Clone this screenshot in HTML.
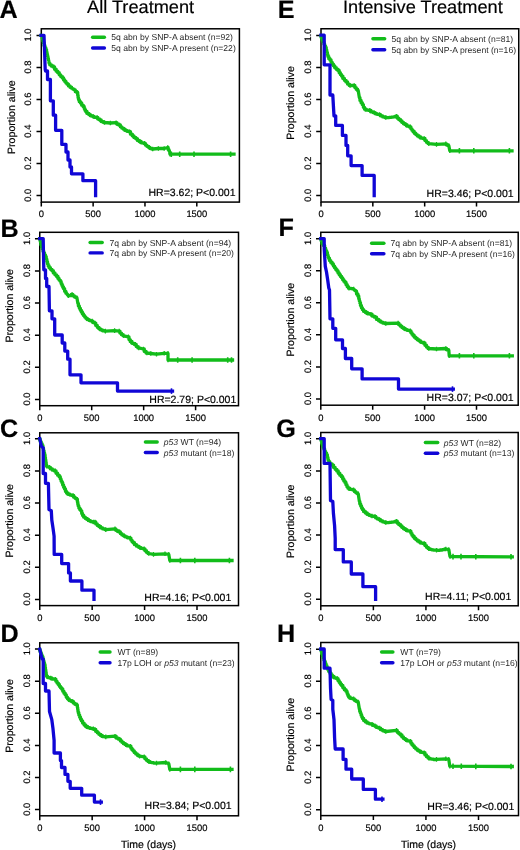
<!DOCTYPE html>
<html><head><meta charset="utf-8"><style>
html,body{margin:0;padding:0;background:#fff;width:520px;height:850px;overflow:hidden}
svg{display:block;text-rendering:geometricPrecision;will-change:transform}
text{font-family:"Liberation Sans",sans-serif;fill:#000;stroke:#000;stroke-width:0.18px}
.let{font-size:25.2px;font-weight:bold}
.ti{font-size:18.2px}
.tl{font-size:9.4px}
.yl{font-size:10.6px}
.lg{font-size:8.6px;fill:#2a2a2a;stroke:none}
.hr{font-size:10.5px}
.xl{font-size:10.5px}
.fr{fill:none;stroke:#000;stroke-width:1.5}
.tk{fill:none;stroke:#000;stroke-width:1.5}
.lgl{stroke-width:3.4;fill:none;stroke-linecap:round}
.vt{fill:none;stroke-width:1.3}
.cs{fill:none;stroke-width:1.6}
.cv{fill:none;stroke-width:3.3;stroke-linejoin:round;stroke-linecap:square}
</style></head><body>
<svg width="520" height="850" viewBox="0 0 520 850">
<text x='-0.5' y='18.2' class='let'>A</text>
<rect x='41.3' y='28.8' width='198.1' height='173.3' class='fr'/>
<path d='M36.5 35.4H41.3 M36.5 67.44H41.3 M36.5 99.48H41.3 M36.5 131.52H41.3 M36.5 163.56H41.3 M36.5 195.6H41.3 M41.3 202.1V206.6 M93.13 202.1V206.6 M144.97 202.1V206.6 M196.8 202.1V206.6' class='tk'/>
<text transform='translate(31.4,35) rotate(-90)' class='tl' text-anchor='middle'>1.0</text>
<text transform='translate(31.4,67.04) rotate(-90)' class='tl' text-anchor='middle'>0.8</text>
<text transform='translate(31.4,99.08) rotate(-90)' class='tl' text-anchor='middle'>0.6</text>
<text transform='translate(31.4,131.12) rotate(-90)' class='tl' text-anchor='middle'>0.4</text>
<text transform='translate(31.4,163.16) rotate(-90)' class='tl' text-anchor='middle'>0.2</text>
<text transform='translate(31.4,195.2) rotate(-90)' class='tl' text-anchor='middle'>0.0</text>
<text transform='translate(41.3,217.4)' class='tl' text-anchor='middle'>0</text>
<text transform='translate(93.13,217.4)' class='tl' text-anchor='middle'>500</text>
<text transform='translate(144.97,217.4)' class='tl' text-anchor='middle'>1000</text>
<text transform='translate(196.8,217.4)' class='tl' text-anchor='middle'>1500</text>
<text transform='translate(15.2,117.2) rotate(-90)' class='yl' text-anchor='middle'>Proportion alive</text>
<path d='M92.6 37.3H104.4' stroke='#12bc1a' class='lgl'/>
<path d='M92.6 48H104.4' stroke='#1006d6' class='lgl'/>
<text x='111.3' y='40.3' class='lg'>5q abn by SNP-A absent (n=92)</text>
<text x='111.3' y='51' class='lg'>5q abn by SNP-A present (n=22)</text>
<text x='235.5' y='196.4' class='hr' text-anchor='end'>HR=3.62; P&lt;0.001</text>
<path d='M41 35.4 L42 36 L42.25 36 L42.25 38.63 L42.75 38.63 L42.75 40.87 L43.25 40.87 L43.25 42.7 L43.5 42.7 L43.97 42.7 L43.97 45.4 L44.9 45.4 L44.9 47.7 L45.83 47.7 L45.83 49.6 L46.3 49.6 L46.53 49.6 L46.53 52.08 L46.99 52.08 L46.99 54.16 L47.45 54.16 L47.45 56.24 L47.91 56.24 L47.91 58.32 L48.37 58.32 L48.37 60 L48.6 60 L49.2 63.4 L49.97 63.4 L49.97 64.97 L51.5 64.97 L51.5 66.13 L53.03 66.13 L53.03 66.9 L53.8 66.9 L54.58 66.9 L54.58 69.23 L56.15 69.23 L56.15 71.17 L57.72 71.17 L57.72 72.7 L58.5 72.7 L59.25 72.7 L59.25 74.83 L60.75 74.83 L60.75 76.57 L62.25 76.57 L62.25 77.9 L63 77.9 L63.59 77.9 L63.59 79.88 L64.76 79.88 L64.76 81.45 L65.94 81.45 L65.94 83.03 L67.11 83.03 L67.11 84.2 L67.7 84.2 L68.47 84.2 L68.47 85.93 L70 85.93 L70 87.27 L71.53 87.27 L71.53 88.2 L72.3 88.2 L74.6 90 L75.32 90 L75.32 91.65 L76.78 91.65 L76.78 92.5 L77.5 92.5 L77.7 92.5 L77.7 95.27 L78.1 95.27 L78.1 97.63 L78.5 97.63 L78.5 99.6 L78.7 99.6 L79.28 99.6 L79.28 101.7 L80.42 101.7 L80.42 103 L81 103 L81.7 103 L81.7 105.15 L83.1 105.15 L83.1 106.5 L83.8 106.5 L84.18 106.5 L84.18 108.57 L84.95 108.57 L84.95 110.23 L85.72 110.23 L85.72 111.5 L86.1 111.5 L86.97 111.5 L86.97 113.45 L88.72 113.45 L88.72 114.6 L89.6 114.6 L90.47 114.6 L90.47 115.85 L92.22 115.85 L92.22 116.3 L93.1 116.3 L94.1 116.3 L94.1 117.3 L96.1 117.3 L96.1 117.5 L97.1 117.5 L97.82 117.5 L97.82 119.05 L99.28 119.05 L99.28 119.8 L100 119.8 L101.15 119.8 L101.15 121.55 L103.45 121.55 L103.45 122.5 L104.6 122.5 L110.4 123 L116.1 122.7 L116.97 122.7 L116.97 124.25 L118.72 124.25 L118.72 125 L119.6 125 L120.37 125 L120.37 126.8 L121.9 126.8 L121.9 128.2 L123.43 128.2 L123.43 129.2 L124.2 129.2 L125.1 129.2 L125.1 130.43 L126.9 130.43 L126.9 131.27 L128.7 131.27 L128.7 131.7 L129.6 131.7 L130.47 131.7 L130.47 134.15 L132.22 134.15 L132.22 135.8 L133.1 135.8 L133.95 135.8 L133.95 137.6 L135.65 137.6 L135.65 138.6 L136.5 138.6 L137.38 138.6 L137.38 140.45 L139.12 140.45 L139.12 141.5 L140 141.5 L141.15 141.5 L141.15 142.8 L143.45 142.8 L143.45 143.3 L144.6 143.3 L145.37 143.3 L145.37 145.03 L146.9 145.03 L146.9 146.37 L148.43 146.37 L148.43 147.3 L149.2 147.3 L150.07 147.3 L150.07 148.55 L151.82 148.55 L151.82 149 L152.7 149 L158.4 148.5 L164.2 148.5 L167.7 147.5 L168.12 147.5 L168.12 149.55 L168.98 149.55 L168.98 150.8 L169.4 150.8 L170 154.2 L234 154.2' class='cv' stroke='#12bc1a'/>
<path d='M46.3 47.3V51.9 M48.6 57.7V62.3 M49.2 61.1V65.7 M53.8 64.6V69.2 M58.5 70.4V75 M63 75.6V80.2 M67.7 81.9V86.5 M72.3 85.9V90.5 M74.6 87.7V92.3 M77.5 90.2V94.8 M78.7 97.3V101.9 M81 100.7V105.3 M83.8 104.2V108.8 M86.1 109.2V113.8 M89.6 112.3V116.9 M93.1 114V118.6 M97.1 115.2V119.8 M100 117.5V122.1 M104.6 120.2V124.8 M110.4 120.7V125.3 M116.1 120.4V125 M119.6 122.7V127.3 M124.2 126.9V131.5 M129.6 129.4V134 M133.1 133.5V138.1 M136.5 136.3V140.9 M140 139.2V143.8 M144.6 141V145.6 M149.2 145V149.6 M152.7 146.7V151.3 M158.4 146.2V150.8 M164.2 146.2V150.8 M167.7 145.2V149.8 M169.4 148.5V153.1 M170 151.9V156.5' class='vt' stroke='#12bc1a'/>
<path d='M171.3 151.4V157 M179.7 151.4V157 M194 151.4V157 M230.6 151.4V157' class='cs' stroke='#12bc1a'/>
<path d='M41 35.4 L44 35.4 L45.2 69.5 L45.5 71 L47.5 71 L47.5 79.5 L50.4 79.5 L50.4 100.8 L53.3 100.8 L53.3 115.2 L55.6 115.2 L55.6 130.3 L61.8 130.3 L61.8 144.4 L66 144.4 L66 152 L68 152 L68 160 L70 160 L70 167 L71.5 167 L71.5 173.8 L82.9 173.8 L82.9 180.7 L95.6 180.7 L95.6 195.7' class='cv' stroke='#1006d6'/>
<text x='0.5' y='236.5' class='let'>B</text>
<rect x='39.75' y='232.3' width='198.75' height='173.4' class='fr'/>
<path d='M34.95 238.8H39.75 M34.95 270.92H39.75 M34.95 303.04H39.75 M34.95 335.16H39.75 M34.95 367.28H39.75 M34.95 399.4H39.75 M39.75 405.7V410.2 M91.7 405.7V410.2 M143.65 405.7V410.2 M195.6 405.7V410.2' class='tk'/>
<text transform='translate(30.4,238.4) rotate(-90)' class='tl' text-anchor='middle'>1.0</text>
<text transform='translate(30.4,270.52) rotate(-90)' class='tl' text-anchor='middle'>0.8</text>
<text transform='translate(30.4,302.64) rotate(-90)' class='tl' text-anchor='middle'>0.6</text>
<text transform='translate(30.4,334.76) rotate(-90)' class='tl' text-anchor='middle'>0.4</text>
<text transform='translate(30.4,366.88) rotate(-90)' class='tl' text-anchor='middle'>0.2</text>
<text transform='translate(30.4,399) rotate(-90)' class='tl' text-anchor='middle'>0.0</text>
<text transform='translate(39.75,421)' class='tl' text-anchor='middle'>0</text>
<text transform='translate(91.7,421)' class='tl' text-anchor='middle'>500</text>
<text transform='translate(143.65,421)' class='tl' text-anchor='middle'>1000</text>
<text transform='translate(195.6,421)' class='tl' text-anchor='middle'>1500</text>
<text transform='translate(13.2,305.8) rotate(-90)' class='yl' text-anchor='middle'>Proportion alive</text>
<path d='M90.1 242.5H102.2' stroke='#12bc1a' class='lgl'/>
<path d='M90.1 252.9H102.2' stroke='#1006d6' class='lgl'/>
<text x='109.5' y='245.5' class='lg'>7q abn by SNP-A absent (n=94)</text>
<text x='109.5' y='255.9' class='lg'>7q abn by SNP-A present (n=20)</text>
<text x='236.3' y='403.1' class='hr' text-anchor='end'>HR=2.79; P&lt;0.001</text>
<path d='M39.75 238.8 L40.5 242 L40.85 242 L40.85 244.73 L41.55 244.73 L41.55 247.07 L42.25 247.07 L42.25 249 L42.6 249 L43.01 249 L43.01 251.3 L43.84 251.3 L43.84 253.2 L44.66 253.2 L44.66 255.1 L45.49 255.1 L45.49 256.6 L45.9 256.6 L46.21 256.6 L46.21 259.27 L46.84 259.27 L46.84 261.55 L47.46 261.55 L47.46 263.82 L48.09 263.82 L48.09 265.7 L48.4 265.7 L49.08 265.7 L49.08 267.73 L50.45 267.73 L50.45 269.37 L51.82 269.37 L51.82 270.6 L52.5 270.6 L53.32 270.6 L53.32 272.93 L54.95 272.93 L54.95 274.87 L56.58 274.87 L56.58 276.4 L57.4 276.4 L57.95 276.4 L57.95 278.43 L59.05 278.43 L59.05 280.07 L60.15 280.07 L60.15 281.3 L60.7 281.3 L61.11 281.3 L61.11 283.55 L61.94 283.55 L61.94 285.4 L62.76 285.4 L62.76 287.25 L63.59 287.25 L63.59 288.7 L64 288.7 L64.62 288.7 L64.62 291.35 L65.88 291.35 L65.88 293.2 L66.5 293.2 L68.3 295.8 L69.25 295.8 L69.25 295.55 L71.15 295.55 L71.15 294.5 L72.1 294.5 L72.9 294.5 L72.9 295.97 L74.5 295.97 L74.5 297.03 L76.1 297.03 L76.1 297.7 L76.9 297.7 L77.9 303.5 L78.39 303.5 L78.39 306.02 L79.36 306.02 L79.36 308.15 L80.34 308.15 L80.34 310.27 L81.31 310.27 L81.31 312 L81.8 312 L82.38 312 L82.38 313.97 L83.53 313.97 L83.53 315.55 L84.67 315.55 L84.67 317.12 L85.83 317.12 L85.83 318.3 L86.4 318.3 L87.37 318.3 L87.37 319.63 L89.3 319.63 L89.3 320.57 L91.23 320.57 L91.23 321.1 L92.2 321.1 L92.9 321.1 L92.9 322.5 L94.3 322.5 L94.3 323.1 L95 323.1 L95.77 323.1 L95.77 325.4 L97.3 325.4 L97.3 327.3 L98.83 327.3 L98.83 328.8 L99.6 328.8 L100.57 328.8 L100.57 329.97 L102.5 329.97 L102.5 330.73 L104.43 330.73 L104.43 331.1 L105.4 331.1 L114.6 330.6 L119.2 331.1 L119.97 331.1 L119.97 333.07 L121.5 333.07 L121.5 334.63 L123.03 334.63 L123.03 335.8 L123.8 335.8 L128.4 336.9 L129 336.9 L129 339.6 L130.2 339.6 L130.2 341.5 L130.8 341.5 L131.95 341.5 L131.95 343.35 L134.25 343.35 L134.25 344.4 L135.4 344.4 L136.25 344.4 L136.25 346.55 L137.95 346.55 L137.95 347.9 L138.8 347.9 L143.4 349 L144.28 349 L144.28 351.4 L146.03 351.4 L146.03 353 L146.9 353 L150.8 353.5 L156.5 354.2 L164.2 353.3 L168 353.3 L168 360 L232.5 360' class='cv' stroke='#12bc1a'/>
<path d='M45.9 254.3V258.9 M48.4 263.4V268 M52.5 268.3V272.9 M57.4 274.1V278.7 M60.7 279V283.6 M64 286.4V291 M66.5 290.9V295.5 M68.3 293.5V298.1 M72.1 292.2V296.8 M76.9 295.4V300 M77.9 301.2V305.8 M81.8 309.7V314.3 M86.4 316V320.6 M92.2 318.8V323.4 M95 320.8V325.4 M99.6 326.5V331.1 M105.4 328.8V333.4 M114.6 328.3V332.9 M119.2 328.8V333.4 M123.8 333.5V338.1 M128.4 334.6V339.2 M130.8 339.2V343.8 M135.4 342.1V346.7 M138.8 345.6V350.2 M143.4 346.7V351.3 M146.9 350.7V355.3 M150.8 351.2V355.8 M156.5 351.9V356.5 M164.2 351V355.6 M168 351V355.6 M168 357.7V362.3' class='vt' stroke='#12bc1a'/>
<path d='M177.7 357.2V362.8 M192.1 357.2V362.8 M227.7 357.2V362.8 M231.5 357.2V362.8' class='cs' stroke='#12bc1a'/>
<path d='M39.75 238.6 L43.2 238.6 L43.4 250 L43.8 269.8 L45.5 269.8 L45.5 278.5 L46.7 278.5 L46.7 286.5 L49 286.5 L49.4 310.8 L52 310.8 L52 318.8 L54.7 318.8 L54.7 335 L62.2 335 L62.2 343 L64.8 343 L64.8 351.1 L67.7 351.1 L67.7 359.2 L70 359.2 L70 374.8 L81 374.8 L81 382.8 L117.5 382.8 L117.5 391.1 L172.5 391.1' class='cv' stroke='#1006d6'/>
<path d='M171.5 388.3V393.9' class='cs' stroke='#1006d6'/>
<text x='0' y='436.8' class='let'>C</text>
<rect x='39.75' y='432.8' width='198.75' height='172.8' class='fr'/>
<path d='M34.95 438.8H39.75 M34.95 470.92H39.75 M34.95 503.04H39.75 M34.95 535.16H39.75 M34.95 567.28H39.75 M34.95 599.4H39.75 M39.75 605.6V610.1 M92.17 605.6V610.1 M144.58 605.6V610.1 M197 605.6V610.1' class='tk'/>
<text transform='translate(30.4,438.4) rotate(-90)' class='tl' text-anchor='middle'>1.0</text>
<text transform='translate(30.4,470.52) rotate(-90)' class='tl' text-anchor='middle'>0.8</text>
<text transform='translate(30.4,502.64) rotate(-90)' class='tl' text-anchor='middle'>0.6</text>
<text transform='translate(30.4,534.76) rotate(-90)' class='tl' text-anchor='middle'>0.4</text>
<text transform='translate(30.4,566.88) rotate(-90)' class='tl' text-anchor='middle'>0.2</text>
<text transform='translate(30.4,599) rotate(-90)' class='tl' text-anchor='middle'>0.0</text>
<text transform='translate(39.75,620.9)' class='tl' text-anchor='middle'>0</text>
<text transform='translate(92.17,620.9)' class='tl' text-anchor='middle'>500</text>
<text transform='translate(144.58,620.9)' class='tl' text-anchor='middle'>1000</text>
<text transform='translate(197,620.9)' class='tl' text-anchor='middle'>1500</text>
<text transform='translate(13.2,520.8) rotate(-90)' class='yl' text-anchor='middle'>Proportion alive</text>
<path d='M145.4 442H157.2' stroke='#12bc1a' class='lgl'/>
<path d='M145.4 452.5H157.2' stroke='#1006d6' class='lgl'/>
<text x='163.8' y='445' class='lg'><tspan font-style='italic'>p53</tspan> WT (n=94)</text>
<text x='163.8' y='455.5' class='lg'><tspan font-style='italic'>p53</tspan> mutant (n=18)</text>
<text x='231.3' y='601.2' class='hr' text-anchor='end'>HR=4.16; P&lt;0.001</text>
<path d='M39.75 439 L40.23 439 L40.23 441.57 L41.17 441.57 L41.17 443.73 L42.12 443.73 L42.12 445.5 L42.6 445.5 L42.89 445.5 L42.89 448.22 L43.46 448.22 L43.46 450.55 L44.04 450.55 L44.04 452.88 L44.61 452.88 L44.61 454.8 L44.9 454.8 L45.08 454.8 L45.08 457.5 L45.44 457.5 L45.44 459.8 L45.8 459.8 L45.8 462.1 L46.16 462.1 L46.16 464.4 L46.52 464.4 L46.52 466.3 L46.7 466.3 L49.5 467.4 L50.47 467.4 L50.47 468.97 L52.4 468.97 L52.4 470.13 L54.33 470.13 L54.33 470.9 L55.3 470.9 L56.07 470.9 L56.07 473.23 L57.6 473.23 L57.6 475.17 L59.13 475.17 L59.13 476.7 L59.9 476.7 L60.28 476.7 L60.28 479 L61.05 479 L61.05 480.9 L61.82 480.9 L61.82 482.4 L62.2 482.4 L62.67 482.4 L62.67 485 L63.6 485 L63.6 487.2 L64.53 487.2 L64.53 489 L65 489 L65.5 489 L65.5 491.4 L66.5 491.4 L66.5 493 L67 493 L68 493 L68 494.23 L70 494.23 L70 495.07 L72 495.07 L72 495.5 L73 495.5 L73.7 495.5 L73.7 497.13 L75.1 497.13 L75.1 498.37 L76.5 498.37 L76.5 499.2 L77.2 499.2 L77.4 499.2 L77.4 501.9 L77.8 501.9 L77.8 504.2 L78.2 504.2 L78.2 506.1 L78.4 506.1 L78.88 506.1 L78.88 508.07 L79.85 508.07 L79.85 509.63 L80.82 509.63 L80.82 510.8 L81.3 510.8 L81.72 510.8 L81.72 513.5 L82.58 513.5 L82.58 515.4 L83 515.4 L83.77 515.4 L83.77 517.13 L85.3 517.13 L85.3 518.47 L86.83 518.47 L86.83 519.4 L87.6 519.4 L88.57 519.4 L88.57 520.67 L90.5 520.67 L90.5 521.53 L92.43 521.53 L92.43 522 L93.4 522 L95 522 L95.77 522 L95.77 523.9 L97.3 523.9 L97.3 525.4 L98.83 525.4 L98.83 526.5 L99.6 526.5 L100.63 526.5 L100.63 527.93 L102.7 527.93 L102.7 528.97 L104.77 528.97 L104.77 529.6 L105.8 529.6 L115 528.8 L115.77 528.8 L115.77 530.23 L117.3 530.23 L117.3 531.27 L118.83 531.27 L118.83 531.9 L119.6 531.9 L120.37 531.9 L120.37 533.6 L121.9 533.6 L121.9 534.9 L123.43 534.9 L123.43 535.8 L124.2 535.8 L125.23 535.8 L125.23 536.97 L127.3 536.97 L127.3 537.73 L129.37 537.73 L129.37 538.1 L130.4 538.1 L130.92 538.1 L130.92 540.03 L131.95 540.03 L131.95 541.57 L132.98 541.57 L132.98 542.7 L133.5 542.7 L134.52 542.7 L134.52 544.63 L136.55 544.63 L136.55 546.17 L138.58 546.17 L138.58 547.3 L139.6 547.3 L140.75 547.3 L140.75 548.45 L143.05 548.45 L143.05 548.8 L144.2 548.8 L144.97 548.8 L144.97 550.77 L146.5 550.77 L146.5 552.33 L148.03 552.33 L148.03 553.5 L148.8 553.5 L153.5 554.4 L165 553.8 L168.8 554.4 L169.8 560.5 L232 560.5' class='cv' stroke='#12bc1a'/>
<path d='M46.7 464V468.6 M49.5 465.1V469.7 M55.3 468.6V473.2 M59.9 474.4V479 M62.2 480.1V484.7 M65 486.7V491.3 M67 490.7V495.3 M73 493.2V497.8 M77.2 496.9V501.5 M78.4 503.8V508.4 M81.3 508.5V513.1 M83 513.1V517.7 M87.6 517.1V521.7 M93.4 519.7V524.3 M95 519.7V524.3 M99.6 524.2V528.8 M105.8 527.3V531.9 M115 526.5V531.1 M119.6 529.6V534.2 M124.2 533.5V538.1 M130.4 535.8V540.4 M133.5 540.4V545 M139.6 545V549.6 M144.2 546.5V551.1 M148.8 551.2V555.8 M153.5 552.1V556.7 M165 551.5V556.1 M168.8 552.1V556.7 M169.8 558.2V562.8' class='vt' stroke='#12bc1a'/>
<path d='M180.4 557.7V563.3 M194.8 557.7V563.3 M229.4 557.7V563.3' class='cs' stroke='#12bc1a'/>
<path d='M39.75 438.6 L41.5 446.5 L43.2 447.8 L43.2 473.5 L45.5 473.5 L45.5 483.3 L48.4 483.3 L49 509.6 L51.3 510.8 L51.8 520 L53 528 L54.1 536.1 L54.2 554.4 L61.7 554.4 L61.7 563.6 L68.6 563.6 L68.6 572.9 L70.4 572.9 L70.4 581 L81.9 581 L81.9 590.2 L94 590.2 L94 599.4' class='cv' stroke='#1006d6'/>
<text x='0.5' y='642' class='let'>D</text>
<rect x='39.75' y='642.8' width='198.75' height='173' class='fr'/>
<path d='M34.95 649.1H39.75 M34.95 681.2H39.75 M34.95 713.3H39.75 M34.95 745.4H39.75 M34.95 777.5H39.75 M34.95 809.6H39.75 M39.75 815.8V820.3 M92.17 815.8V820.3 M144.58 815.8V820.3 M197 815.8V820.3' class='tk'/>
<text transform='translate(30.4,648.7) rotate(-90)' class='tl' text-anchor='middle'>1.0</text>
<text transform='translate(30.4,680.8) rotate(-90)' class='tl' text-anchor='middle'>0.8</text>
<text transform='translate(30.4,712.9) rotate(-90)' class='tl' text-anchor='middle'>0.6</text>
<text transform='translate(30.4,745) rotate(-90)' class='tl' text-anchor='middle'>0.4</text>
<text transform='translate(30.4,777.1) rotate(-90)' class='tl' text-anchor='middle'>0.2</text>
<text transform='translate(30.4,809.2) rotate(-90)' class='tl' text-anchor='middle'>0.0</text>
<text transform='translate(39.75,831.1)' class='tl' text-anchor='middle'>0</text>
<text transform='translate(92.17,831.1)' class='tl' text-anchor='middle'>500</text>
<text transform='translate(144.58,831.1)' class='tl' text-anchor='middle'>1000</text>
<text transform='translate(197,831.1)' class='tl' text-anchor='middle'>1500</text>
<text transform='translate(13.2,716) rotate(-90)' class='yl' text-anchor='middle'>Proportion alive</text>
<path d='M100.2 652H110' stroke='#12bc1a' class='lgl'/>
<path d='M100.2 662.7H110' stroke='#1006d6' class='lgl'/>
<text x='117.4' y='655' class='lg'>WT (n=89)</text>
<text x='117.4' y='665.7' class='lg'>17p LOH or <tspan font-style='italic'>p53</tspan> mutant (n=23)</text>
<text x='231.6' y='809.1' class='hr' text-anchor='end'>HR=3.84; P&lt;0.001</text>
<path d='M39.75 649.5 L40.11 649.5 L40.11 651.7 L40.82 651.7 L40.82 653.5 L41.53 653.5 L41.53 655.3 L42.24 655.3 L42.24 656.7 L42.6 656.7 L42.89 656.7 L42.89 659.12 L43.46 659.12 L43.46 661.15 L44.04 661.15 L44.04 663.17 L44.61 663.17 L44.61 664.8 L44.9 664.8 L45.08 664.8 L45.08 667.5 L45.44 667.5 L45.44 669.8 L45.8 669.8 L45.8 672.1 L46.16 672.1 L46.16 674.4 L46.52 674.4 L46.52 676.3 L46.7 676.3 L47.7 676.3 L47.7 677.55 L49.7 677.55 L49.7 678 L50.7 678 L51.85 678 L51.85 679 L54.15 679 L54.15 679.2 L55.3 679.2 L55.88 679.2 L55.88 681.33 L57.05 681.33 L57.05 683.07 L58.22 683.07 L58.22 684.4 L58.8 684.4 L59.37 684.4 L59.37 686.33 L60.5 686.33 L60.5 687.87 L61.63 687.87 L61.63 689 L62.2 689 L62.78 689 L62.78 691.33 L63.95 691.33 L63.95 693.27 L65.12 693.27 L65.12 694.8 L65.7 694.8 L66.28 694.8 L66.28 697.2 L67.42 697.2 L67.42 698.8 L68 698.8 L69.15 698.8 L69.15 700.55 L71.45 700.55 L71.45 701.5 L72.6 701.5 L73.37 701.5 L73.37 703.07 L74.9 703.07 L74.9 704.23 L76.43 704.23 L76.43 705 L77.2 705 L77.35 705 L77.35 707.32 L77.65 707.32 L77.65 709.25 L77.95 709.25 L77.95 711.18 L78.25 711.18 L78.25 712.7 L78.4 712.7 L78.83 712.7 L78.83 715.12 L79.67 715.12 L79.67 717.15 L80.53 717.15 L80.53 719.17 L81.38 719.17 L81.38 720.8 L81.8 720.8 L82.57 720.8 L82.57 723.1 L84.1 723.1 L84.1 725 L85.63 725 L85.63 726.5 L86.4 726.5 L87.57 726.5 L87.57 727.67 L89.9 727.67 L89.9 728.43 L92.23 728.43 L92.23 728.8 L93.4 728.8 L95 729.5 L95.78 729.5 L95.78 731.38 L97.32 731.38 L97.32 732.85 L98.88 732.85 L98.88 734.32 L100.43 734.32 L100.43 735.4 L101.2 735.4 L102.35 735.4 L102.35 736.55 L104.65 736.55 L104.65 736.9 L105.8 736.9 L115 736.2 L116.15 736.2 L116.15 738.1 L118.45 738.1 L118.45 739.2 L119.6 739.2 L120.38 739.2 L120.38 740.95 L121.92 740.95 L121.92 742.3 L123.47 742.3 L123.47 743.65 L125.03 743.65 L125.03 744.6 L125.8 744.6 L126.95 744.6 L126.95 745.8 L129.25 745.8 L129.25 746.2 L130.4 746.2 L130.92 746.2 L130.92 748.13 L131.95 748.13 L131.95 749.67 L132.98 749.67 L132.98 750.8 L133.5 750.8 L134.26 750.8 L134.26 752.55 L135.79 752.55 L135.79 753.9 L137.31 753.9 L137.31 755.25 L138.84 755.25 L138.84 756.2 L139.6 756.2 L144.2 756.9 L144.97 756.9 L144.97 758.83 L146.5 758.83 L146.5 760.37 L148.03 760.37 L148.03 761.5 L148.8 761.5 L149.76 761.5 L149.76 762.3 L151.69 762.3 L151.69 762.7 L153.61 762.7 L153.61 763.1 L155.54 763.1 L155.54 763.1 L156.5 763.1 L165.8 762.5 L168.8 763.8 L169.8 769.4 L232 769.4' class='cv' stroke='#12bc1a'/>
<path d='M46.7 674V678.6 M50.7 675.7V680.3 M55.3 676.9V681.5 M58.8 682.1V686.7 M62.2 686.7V691.3 M65.7 692.5V697.1 M68 696.5V701.1 M72.6 699.2V703.8 M77.2 702.7V707.3 M78.4 710.4V715 M81.8 718.5V723.1 M86.4 724.2V728.8 M93.4 726.5V731.1 M95 727.2V731.8 M101.2 733.1V737.7 M105.8 734.6V739.2 M115 733.9V738.5 M119.6 736.9V741.5 M125.8 742.3V746.9 M130.4 743.9V748.5 M133.5 748.5V753.1 M139.6 753.9V758.5 M144.2 754.6V759.2 M148.8 759.2V763.8 M156.5 760.8V765.4 M165.8 760.2V764.8 M168.8 761.5V766.1 M169.8 767.1V771.7' class='vt' stroke='#12bc1a'/>
<path d='M180.4 766.6V772.2 M194.8 766.6V772.2 M230.4 766.6V772.2' class='cs' stroke='#12bc1a'/>
<path d='M39.75 649.2 L41.5 656.7 L42 659 L43.2 659 L43.2 683.5 L45.5 683.5 L45.5 691 L49 691 L49.5 711.5 L51.8 719.6 L53 728.8 L54.1 740.4 L54.1 753 L60.4 753 L60.4 760.6 L61.5 760.6 L61.5 767.5 L65 767.5 L65 774.4 L67.9 774.4 L67.9 781.3 L70.2 781.3 L70.2 788.3 L81.7 788.3 L81.7 795.2 L94.4 795.2 L94.4 802.1 L101.3 802.1' class='cv' stroke='#1006d6'/>
<path d='M100.5 799.3V804.9' class='cs' stroke='#1006d6'/>
<text x='277.75' y='18.45' class='let'>E</text>
<rect x='321' y='28.75' width='197.75' height='173.25' class='fr'/>
<path d='M316.2 35.4H321 M316.2 67.44H321 M316.2 99.48H321 M316.2 131.52H321 M316.2 163.56H321 M316.2 195.6H321 M321 202V206.5 M372.83 202V206.5 M424.67 202V206.5 M476.5 202V206.5' class='tk'/>
<text transform='translate(311.2,35) rotate(-90)' class='tl' text-anchor='middle'>1.0</text>
<text transform='translate(311.2,67.04) rotate(-90)' class='tl' text-anchor='middle'>0.8</text>
<text transform='translate(311.2,99.08) rotate(-90)' class='tl' text-anchor='middle'>0.6</text>
<text transform='translate(311.2,131.12) rotate(-90)' class='tl' text-anchor='middle'>0.4</text>
<text transform='translate(311.2,163.16) rotate(-90)' class='tl' text-anchor='middle'>0.2</text>
<text transform='translate(311.2,195.2) rotate(-90)' class='tl' text-anchor='middle'>0.0</text>
<text transform='translate(321,217.3)' class='tl' text-anchor='middle'>0</text>
<text transform='translate(372.83,217.3)' class='tl' text-anchor='middle'>500</text>
<text transform='translate(424.67,217.3)' class='tl' text-anchor='middle'>1000</text>
<text transform='translate(476.5,217.3)' class='tl' text-anchor='middle'>1500</text>
<text transform='translate(293.9,103) rotate(-90)' class='yl' text-anchor='middle'>Proportion alive</text>
<path d='M372.9 38.75H384.7' stroke='#12bc1a' class='lgl'/>
<path d='M372.9 49.75H384.7' stroke='#1006d6' class='lgl'/>
<text x='391.6' y='41.75' class='lg'>5q abn by SNP-A absent (n=81)</text>
<text x='391.6' y='52.75' class='lg'>5q abn by SNP-A present (n=16)</text>
<text x='513.6' y='196.9' class='hr' text-anchor='end'>HR=3.46; P&lt;0.001</text>
<path d='M321 36 L321.41 36 L321.41 38.28 L322.23 38.28 L322.23 40.17 L323.04 40.17 L323.04 42.05 L323.86 42.05 L323.86 43.93 L324.67 43.93 L324.67 45.82 L325.49 45.82 L325.49 47.3 L325.9 47.3 L326.19 47.3 L326.19 50 L326.76 50 L326.76 52.3 L327.34 52.3 L327.34 54.6 L327.91 54.6 L327.91 56.5 L328.2 56.5 L328.77 56.5 L328.77 58.65 L329.93 58.65 L329.93 60 L330.5 60 L331.08 60 L331.08 62.33 L332.25 62.33 L332.25 64.27 L333.42 64.27 L333.42 65.8 L334 65.8 L334.77 65.8 L334.77 67.73 L336.3 67.73 L336.3 69.27 L337.83 69.27 L337.83 70.4 L338.6 70.4 L339.18 70.4 L339.18 72.7 L340.35 72.7 L340.35 74.6 L341.52 74.6 L341.52 76.1 L342.1 76.1 L342.87 76.1 L342.87 78.43 L344.4 78.43 L344.4 80.37 L345.93 80.37 L345.93 81.9 L346.7 81.9 L347.55 81.9 L347.55 84.1 L349.25 84.1 L349.25 85.5 L350.1 85.5 L354.2 85.5 L354.87 85.5 L354.87 87.57 L356.2 87.57 L356.2 89.23 L357.53 89.23 L357.53 90.5 L358.2 90.5 L359.4 97.7 L359.97 97.7 L359.97 100.4 L361.1 100.4 L361.1 102.7 L362.23 102.7 L362.23 104.6 L362.8 104.6 L363.38 104.6 L363.38 107.3 L364.53 107.3 L364.53 109.2 L365.1 109.2 L366.28 109.2 L366.28 110.2 L368.62 110.2 L368.62 110.4 L369.8 110.4 L370.95 110.4 L370.95 111.95 L373.25 111.95 L373.25 112.7 L374.4 112.7 L375.27 112.7 L375.27 113.73 L377 113.73 L377 114.37 L378.73 114.37 L378.73 114.6 L379.6 114.6 L380.63 114.6 L380.63 115.97 L382.7 115.97 L382.7 116.93 L384.77 116.93 L384.77 117.5 L385.8 117.5 L386.87 117.5 L386.87 117.64 L389.01 117.64 L389.01 117.38 L391.15 117.38 L391.15 117.12 L393.29 117.12 L393.29 116.86 L395.43 116.86 L395.43 116.2 L396.5 116.2 L397.28 116.2 L397.28 118.13 L398.85 118.13 L398.85 119.67 L400.42 119.67 L400.42 120.8 L401.2 120.8 L401.97 120.8 L401.97 122.47 L403.5 122.47 L403.5 123.73 L405.03 123.73 L405.03 124.6 L405.8 124.6 L406.95 124.6 L406.95 126.15 L409.25 126.15 L409.25 126.9 L410.4 126.9 L410.92 126.9 L410.92 128.83 L411.95 128.83 L411.95 130.37 L412.98 130.37 L412.98 131.5 L413.5 131.5 L414.26 131.5 L414.26 133.25 L415.79 133.25 L415.79 134.6 L417.31 134.6 L417.31 135.95 L418.84 135.95 L418.84 136.9 L419.6 136.9 L420.75 136.9 L420.75 138.1 L423.05 138.1 L423.05 138.5 L424.2 138.5 L424.97 138.5 L424.97 140.6 L426.5 140.6 L426.5 142.3 L428.03 142.3 L428.03 143.6 L428.8 143.6 L436.5 144.4 L445.8 143.8 L446.55 143.8 L446.55 145.1 L448.05 145.1 L448.05 145.6 L448.8 145.6 L449.8 150.8 L512 150.8' class='cv' stroke='#12bc1a'/>
<path d='M330.5 57.7V62.3 M334 63.5V68.1 M338.6 68.1V72.7 M342.1 73.8V78.4 M346.7 79.6V84.2 M350.1 83.2V87.8 M354.2 83.2V87.8 M358.2 88.2V92.8 M359.4 95.4V100 M362.8 102.3V106.9 M365.1 106.9V111.5 M369.8 108.1V112.7 M374.4 110.4V115 M379.6 112.3V116.9 M385.8 115.2V119.8 M396.5 113.9V118.5 M401.2 118.5V123.1 M405.8 122.3V126.9 M410.4 124.6V129.2 M413.5 129.2V133.8 M419.6 134.6V139.2 M424.2 136.2V140.8 M428.8 141.3V145.9 M436.5 142.1V146.7 M445.8 141.5V146.1 M448.8 143.3V147.9 M449.8 148.5V153.1' class='vt' stroke='#12bc1a'/>
<path d='M459.4 148V153.6 M473.8 148V153.6 M509.4 148V153.6' class='cs' stroke='#12bc1a'/>
<path d='M321 35.2 L324.2 35.2 L324.2 64.8 L330 64.8 L330 95 L332.8 95 L333.4 105.8 L334 115.8 L335.7 115.8 L335.7 125.4 L342.4 125.4 L342.4 135.4 L346 135.4 L346 145.4 L347.7 145.4 L347.7 155.8 L351.1 155.8 L351.1 165.6 L362.1 165.6 L362.1 175.4 L374.2 175.4 L374.2 195.6' class='cv' stroke='#1006d6'/>
<text x='278.6' y='236.4' class='let'>F</text>
<rect x='320.8' y='232.3' width='197.4' height='172.9' class='fr'/>
<path d='M316 238.8H320.8 M316 270.82H320.8 M316 302.84H320.8 M316 334.86H320.8 M316 366.88H320.8 M316 398.9H320.8 M320.8 405.2V409.7 M372.7 405.2V409.7 M424.6 405.2V409.7 M476.5 405.2V409.7' class='tk'/>
<text transform='translate(311.2,238.4) rotate(-90)' class='tl' text-anchor='middle'>1.0</text>
<text transform='translate(311.2,270.42) rotate(-90)' class='tl' text-anchor='middle'>0.8</text>
<text transform='translate(311.2,302.44) rotate(-90)' class='tl' text-anchor='middle'>0.6</text>
<text transform='translate(311.2,334.46) rotate(-90)' class='tl' text-anchor='middle'>0.4</text>
<text transform='translate(311.2,366.48) rotate(-90)' class='tl' text-anchor='middle'>0.2</text>
<text transform='translate(311.2,398.5) rotate(-90)' class='tl' text-anchor='middle'>0.0</text>
<text transform='translate(320.8,420.5)' class='tl' text-anchor='middle'>0</text>
<text transform='translate(372.7,420.5)' class='tl' text-anchor='middle'>500</text>
<text transform='translate(424.6,420.5)' class='tl' text-anchor='middle'>1000</text>
<text transform='translate(476.5,420.5)' class='tl' text-anchor='middle'>1500</text>
<text transform='translate(293.9,319.7) rotate(-90)' class='yl' text-anchor='middle'>Proportion alive</text>
<path d='M371.6 243.25H383.9' stroke='#12bc1a' class='lgl'/>
<path d='M371.6 253.75H383.9' stroke='#1006d6' class='lgl'/>
<text x='390.5' y='246.25' class='lg'>7q abn by SNP-A absent (n=81)</text>
<text x='390.5' y='256.75' class='lg'>7q abn by SNP-A present (n=16)</text>
<text x='513.6' y='401.1' class='hr' text-anchor='end'>HR=3.07; P&lt;0.001</text>
<path d='M320.8 239 L321.3 241 L322.02 241 L322.02 243.65 L323.48 243.65 L323.48 245.5 L324.2 245.5 L324.68 245.5 L324.68 248.23 L325.65 248.23 L325.65 250.57 L326.62 250.57 L326.62 252.5 L327.1 252.5 L327.38 252.5 L327.38 254.8 L327.95 254.8 L327.95 256.7 L328.52 256.7 L328.52 258.2 L328.8 258.2 L329.47 258.2 L329.47 260.53 L330.8 260.53 L330.8 262.47 L332.13 262.47 L332.13 264 L332.8 264 L333.39 264 L333.39 266.12 L334.56 266.12 L334.56 267.85 L335.74 267.85 L335.74 269.57 L336.91 269.57 L336.91 270.9 L337.5 270.9 L338.07 270.9 L338.07 273.02 L339.23 273.02 L339.23 274.75 L340.38 274.75 L340.38 276.47 L341.53 276.47 L341.53 277.8 L342.1 277.8 L342.67 277.8 L342.67 279.73 L343.8 279.73 L343.8 281.27 L344.93 281.27 L344.93 282.4 L345.5 282.4 L346.08 282.4 L346.08 284.73 L347.25 284.73 L347.25 286.67 L348.42 286.67 L348.42 288.2 L349 288.2 L353.6 289 L355.9 291.2 L356.55 291.2 L356.55 294 L357.85 294 L357.85 296 L358.5 296 L358.75 296 L358.75 298.63 L359.25 298.63 L359.25 300.87 L359.75 300.87 L359.75 302.7 L360 302.7 L360.47 302.7 L360.47 305.4 L361.4 305.4 L361.4 307.7 L362.33 307.7 L362.33 309.6 L362.8 309.6 L363.68 309.6 L363.68 311.45 L365.43 311.45 L365.43 312.5 L366.3 312.5 L367.45 312.5 L367.45 313.75 L369.75 313.75 L369.75 314.2 L370.9 314.2 L372.05 314.2 L372.05 316.1 L374.35 316.1 L374.35 317.2 L375.5 317.2 L376.52 317.2 L376.52 319.4 L378.58 319.4 L378.58 320.8 L379.6 320.8 L380.63 320.8 L380.63 322.1 L382.7 322.1 L382.7 323 L384.77 323 L384.77 323.5 L385.8 323.5 L398.1 323.1 L398.86 323.1 L398.86 324.85 L400.39 324.85 L400.39 326.2 L401.91 326.2 L401.91 327.55 L403.44 327.55 L403.44 328.5 L404.2 328.5 L405.23 328.5 L405.23 329.67 L407.3 329.67 L407.3 330.43 L409.37 330.43 L409.37 330.8 L410.4 330.8 L410.92 330.8 L410.92 332.73 L411.95 332.73 L411.95 334.27 L412.98 334.27 L412.98 335.4 L413.5 335.4 L414.26 335.4 L414.26 337.15 L415.79 337.15 L415.79 338.5 L417.31 338.5 L417.31 339.85 L418.84 339.85 L418.84 340.8 L419.6 340.8 L420.75 340.8 L420.75 342.3 L423.05 342.3 L423.05 343 L424.2 343 L424.97 343 L424.97 345.23 L426.5 345.23 L426.5 347.07 L428.03 347.07 L428.03 348.5 L428.8 348.5 L436.5 349 L445.8 348.5 L446.55 348.5 L446.55 349.75 L448.05 349.75 L448.05 350.2 L448.8 350.2 L449.2 355.8 L512.3 355.8' class='cv' stroke='#12bc1a'/>
<path d='M327.1 250.2V254.8 M328.8 255.9V260.5 M332.8 261.7V266.3 M337.5 268.6V273.2 M342.1 275.5V280.1 M345.5 280.1V284.7 M349 285.9V290.5 M353.6 286.7V291.3 M355.9 288.9V293.5 M358.5 293.7V298.3 M360 300.4V305 M362.8 307.3V311.9 M366.3 310.2V314.8 M370.9 311.9V316.5 M375.5 314.9V319.5 M379.6 318.5V323.1 M385.8 321.2V325.8 M398.1 320.8V325.4 M404.2 326.2V330.8 M410.4 328.5V333.1 M413.5 333.1V337.7 M419.6 338.5V343.1 M424.2 340.7V345.3 M428.8 346.2V350.8 M436.5 346.7V351.3 M445.8 346.2V350.8 M448.8 347.9V352.5 M449.2 353.5V358.1' class='vt' stroke='#12bc1a'/>
<path d='M459.4 353V358.6 M473.8 353V358.6 M509.4 353V358.6' class='cs' stroke='#12bc1a'/>
<path d='M320.8 238.6 L324.2 238.6 L324.2 249 L325.3 266.3 L326.5 272 L327.7 280.1 L328.8 288 L329.5 290 L330 318.8 L332.8 318.8 L332.8 328.3 L335.7 328.3 L335.7 339.8 L342.5 339.8 L342.5 348.5 L345.4 348.5 L345.4 358.5 L351.7 358.5 L351.7 368.8 L362.1 368.8 L362.1 378.9 L398.5 378.9 L398.5 389.1 L453.3 389.1' class='cv' stroke='#1006d6'/>
<path d='M452.5 386.3V391.9' class='cs' stroke='#1006d6'/>
<text x='276.3' y='436.7' class='let'>G</text>
<rect x='320.8' y='432.5' width='197.4' height='173.3' class='fr'/>
<path d='M316 438.8H320.8 M316 470.9H320.8 M316 503H320.8 M316 535.1H320.8 M316 567.2H320.8 M316 599.3H320.8 M320.8 605.8V610.3 M373.37 605.8V610.3 M425.93 605.8V610.3 M478.5 605.8V610.3' class='tk'/>
<text transform='translate(311.2,438.4) rotate(-90)' class='tl' text-anchor='middle'>1.0</text>
<text transform='translate(311.2,470.5) rotate(-90)' class='tl' text-anchor='middle'>0.8</text>
<text transform='translate(311.2,502.6) rotate(-90)' class='tl' text-anchor='middle'>0.6</text>
<text transform='translate(311.2,534.7) rotate(-90)' class='tl' text-anchor='middle'>0.4</text>
<text transform='translate(311.2,566.8) rotate(-90)' class='tl' text-anchor='middle'>0.2</text>
<text transform='translate(311.2,598.9) rotate(-90)' class='tl' text-anchor='middle'>0.0</text>
<text transform='translate(320.8,621.1)' class='tl' text-anchor='middle'>0</text>
<text transform='translate(373.37,621.1)' class='tl' text-anchor='middle'>500</text>
<text transform='translate(425.93,621.1)' class='tl' text-anchor='middle'>1000</text>
<text transform='translate(478.5,621.1)' class='tl' text-anchor='middle'>1500</text>
<text transform='translate(293.9,521.3) rotate(-90)' class='yl' text-anchor='middle'>Proportion alive</text>
<path d='M425.4 442.5H437.7' stroke='#12bc1a' class='lgl'/>
<path d='M425.4 453.25H437.7' stroke='#1006d6' class='lgl'/>
<text x='443.8' y='445.5' class='lg'><tspan font-style='italic'>p53</tspan> WT (n=82)</text>
<text x='443.8' y='456.25' class='lg'><tspan font-style='italic'>p53</tspan> mutant (n=13)</text>
<text x='511.3' y='599.8' class='hr' text-anchor='end'>HR=4.11; P&lt;0.001</text>
<path d='M320.8 439 L321.3 441 L321.66 441 L321.66 443.4 L322.39 443.4 L322.39 445.4 L323.11 445.4 L323.11 447.4 L323.84 447.4 L323.84 449 L324.2 449 L324.68 449 L324.68 451.33 L325.65 451.33 L325.65 453.27 L326.62 453.27 L326.62 454.8 L327.1 454.8 L327.38 454.8 L327.38 457.5 L327.95 457.5 L327.95 459.8 L328.52 459.8 L328.52 461.7 L328.8 461.7 L329.8 461.7 L329.8 463.8 L331.8 463.8 L331.8 465.1 L332.8 465.1 L333.58 465.1 L333.58 467.43 L335.15 467.43 L335.15 469.37 L336.72 469.37 L336.72 470.9 L337.5 470.9 L338.27 470.9 L338.27 473.23 L339.8 473.23 L339.8 475.17 L341.33 475.17 L341.33 476.7 L342.1 476.7 L342.67 476.7 L342.67 479 L343.8 479 L343.8 480.9 L344.93 480.9 L344.93 482.4 L345.5 482.4 L345.98 482.4 L345.98 484.73 L346.95 484.73 L346.95 486.67 L347.92 486.67 L347.92 488.2 L348.4 488.2 L349.7 488.2 L349.7 489.4 L352.3 489.4 L352.3 489.8 L353.6 489.8 L354.37 489.8 L354.37 491.53 L355.9 491.53 L355.9 492.87 L357.43 492.87 L357.43 493.8 L358.2 493.8 L359.4 501.5 L359.82 501.5 L359.82 503.92 L360.68 503.92 L360.68 505.95 L361.52 505.95 L361.52 507.98 L362.38 507.98 L362.38 509.6 L362.8 509.6 L363.68 509.6 L363.68 511.7 L365.43 511.7 L365.43 513 L366.3 513 L367.25 513 L367.25 514.4 L369.15 514.4 L369.15 515.4 L371.05 515.4 L371.05 516 L372 516 L375 516.5 L375.77 516.5 L375.77 517.93 L377.3 517.93 L377.3 518.97 L378.83 518.97 L378.83 519.6 L379.6 519.6 L380.63 519.6 L380.63 520.97 L382.7 520.97 L382.7 521.93 L384.77 521.93 L384.77 522.5 L385.8 522.5 L386.87 522.5 L386.87 522.64 L389.01 522.64 L389.01 522.38 L391.15 522.38 L391.15 522.12 L393.29 522.12 L393.29 521.86 L395.43 521.86 L395.43 521.2 L396.5 521.2 L397.28 521.2 L397.28 523.13 L398.85 523.13 L398.85 524.67 L400.42 524.67 L400.42 525.8 L401.2 525.8 L401.97 525.8 L401.97 527.47 L403.5 527.47 L403.5 528.73 L405.03 528.73 L405.03 529.6 L405.8 529.6 L406.95 529.6 L406.95 530.8 L409.25 530.8 L409.25 531.2 L410.4 531.2 L410.92 531.2 L410.92 533.37 L411.95 533.37 L411.95 535.13 L412.98 535.13 L412.98 536.5 L413.5 536.5 L414.26 536.5 L414.26 538.25 L415.79 538.25 L415.79 539.6 L417.31 539.6 L417.31 540.95 L418.84 540.95 L418.84 541.9 L419.6 541.9 L420.75 541.9 L420.75 543.1 L423.05 543.1 L423.05 543.5 L424.2 543.5 L424.97 543.5 L424.97 545.6 L426.5 545.6 L426.5 547.3 L428.03 547.3 L428.03 548.6 L428.8 548.6 L429.76 548.6 L429.76 549.4 L431.69 549.4 L431.69 549.8 L433.61 549.8 L433.61 550.2 L435.54 550.2 L435.54 550.2 L436.5 550.2 L437.66 550.2 L437.66 550.3 L439.99 550.3 L439.99 550 L442.31 550 L442.31 549.7 L444.64 549.7 L444.64 549 L445.8 549 L448.8 549.6 L450 556.5 L512.3 556.8' class='cv' stroke='#12bc1a'/>
<path d='M327.1 452.5V457.1 M328.8 459.4V464 M332.8 462.8V467.4 M337.5 468.6V473.2 M342.1 474.4V479 M345.5 480.1V484.7 M348.4 485.9V490.5 M353.6 487.5V492.1 M358.2 491.5V496.1 M359.4 499.2V503.8 M362.8 507.3V511.9 M366.3 510.7V515.3 M372 513.7V518.3 M375 514.2V518.8 M379.6 517.3V521.9 M385.8 520.2V524.8 M396.5 518.9V523.5 M401.2 523.5V528.1 M405.8 527.3V531.9 M410.4 528.9V533.5 M413.5 534.2V538.8 M419.6 539.6V544.2 M424.2 541.2V545.8 M428.8 546.3V550.9 M436.5 547.9V552.5 M445.8 546.7V551.3 M448.8 547.3V551.9 M450 554.2V558.8' class='vt' stroke='#12bc1a'/>
<path d='M453 553.8V559.4 M461 553.8V559.4 M475.8 553.9V559.5 M511 554V559.6' class='cs' stroke='#12bc1a'/>
<path d='M320.8 438.6 L324.2 438.6 L324.2 463.4 L330 463.4 L330.5 500.4 L332.8 501.5 L333.4 513 L334.6 525.8 L335.2 538.4 L335.2 549.6 L343.3 549.6 L343.3 561.9 L351.3 561.9 L351.3 574 L362.9 574 L362.9 586.7 L375.6 586.7 L375.6 599.3' class='cv' stroke='#1006d6'/>
<text x='277' y='642.4' class='let'>H</text>
<rect x='320.8' y='642.5' width='197.7' height='173.1' class='fr'/>
<path d='M316 649.2H320.8 M316 681.3H320.8 M316 713.4H320.8 M316 745.5H320.8 M316 777.6H320.8 M316 809.7H320.8 M320.8 815.6V820.1 M373.37 815.6V820.1 M425.93 815.6V820.1 M478.5 815.6V820.1' class='tk'/>
<text transform='translate(311.2,648.8) rotate(-90)' class='tl' text-anchor='middle'>1.0</text>
<text transform='translate(311.2,680.9) rotate(-90)' class='tl' text-anchor='middle'>0.8</text>
<text transform='translate(311.2,713) rotate(-90)' class='tl' text-anchor='middle'>0.6</text>
<text transform='translate(311.2,745.1) rotate(-90)' class='tl' text-anchor='middle'>0.4</text>
<text transform='translate(311.2,777.2) rotate(-90)' class='tl' text-anchor='middle'>0.2</text>
<text transform='translate(311.2,809.3) rotate(-90)' class='tl' text-anchor='middle'>0.0</text>
<text transform='translate(320.8,830.9)' class='tl' text-anchor='middle'>0</text>
<text transform='translate(373.37,830.9)' class='tl' text-anchor='middle'>500</text>
<text transform='translate(425.93,830.9)' class='tl' text-anchor='middle'>1000</text>
<text transform='translate(478.5,830.9)' class='tl' text-anchor='middle'>1500</text>
<text transform='translate(293.9,734.7) rotate(-90)' class='yl' text-anchor='middle'>Proportion alive</text>
<path d='M381.6 652H392.9' stroke='#12bc1a' class='lgl'/>
<path d='M381.6 662.7H392.9' stroke='#1006d6' class='lgl'/>
<text x='400.3' y='655' class='lg'>WT (n=79)</text>
<text x='400.3' y='665.7' class='lg'>17p LOH or <tspan font-style='italic'>p53</tspan> mutant (n=16)</text>
<text x='514.3' y='809.8' class='hr' text-anchor='end'>HR=3.46; P&lt;0.001</text>
<path d='M320.8 649.5 L321.3 651.5 L321.65 651.5 L321.65 653.86 L322.35 653.86 L322.35 655.82 L323.05 655.82 L323.05 657.78 L323.75 657.78 L323.75 659.74 L324.45 659.74 L324.45 661.3 L324.8 661.3 L325.23 661.3 L325.23 663.72 L326.07 663.72 L326.07 665.75 L326.93 665.75 L326.93 667.77 L327.77 667.77 L327.77 669.4 L328.2 669.4 L328.77 669.4 L328.77 671.52 L329.93 671.52 L329.93 673.25 L331.07 673.25 L331.07 674.97 L332.23 674.97 L332.23 676.3 L332.8 676.3 L333.98 676.3 L333.98 677.85 L336.32 677.85 L336.32 678.6 L337.5 678.6 L338.07 678.6 L338.07 680.73 L339.23 680.73 L339.23 682.45 L340.38 682.45 L340.38 684.17 L341.53 684.17 L341.53 685.5 L342.1 685.5 L342.87 685.5 L342.87 687.83 L344.4 687.83 L344.4 689.77 L345.93 689.77 L345.93 691.3 L346.7 691.3 L347.08 691.3 L347.08 693.6 L347.85 693.6 L347.85 695.5 L348.62 695.5 L348.62 697 L349 697 L350.15 697 L350.15 698.3 L352.45 698.3 L352.45 698.8 L353.6 698.8 L354.37 698.8 L354.37 700.27 L355.9 700.27 L355.9 701.33 L357.43 701.33 L357.43 702 L358.2 702 L359.4 709.2 L359.74 709.2 L359.74 711.46 L360.42 711.46 L360.42 713.32 L361.1 713.32 L361.1 715.18 L361.78 715.18 L361.78 717.04 L362.46 717.04 L362.46 718.5 L362.8 718.5 L363.68 718.5 L363.68 720.6 L365.43 720.6 L365.43 721.9 L366.3 721.9 L367.25 721.9 L367.25 723.07 L369.15 723.07 L369.15 723.83 L371.05 723.83 L371.05 724.2 L372 724.2 L372.75 724.2 L372.75 725.4 L374.25 725.4 L374.25 725.8 L375 725.8 L376.15 725.8 L376.15 727.35 L378.45 727.35 L378.45 728.1 L379.6 728.1 L380.63 728.1 L380.63 729.63 L382.7 729.63 L382.7 730.77 L384.77 730.77 L384.77 731.5 L385.8 731.5 L396.5 730.4 L397.28 730.4 L397.28 732.33 L398.85 732.33 L398.85 733.87 L400.42 733.87 L400.42 735 L401.2 735 L401.97 735 L401.97 736.93 L403.5 736.93 L403.5 738.47 L405.03 738.47 L405.03 739.6 L405.8 739.6 L406.95 739.6 L406.95 740.8 L409.25 740.8 L409.25 741.2 L410.4 741.2 L410.92 741.2 L410.92 743.13 L411.95 743.13 L411.95 744.67 L412.98 744.67 L412.98 745.8 L413.5 745.8 L414.26 745.8 L414.26 747.55 L415.79 747.55 L415.79 748.9 L417.31 748.9 L417.31 750.25 L418.84 750.25 L418.84 751.2 L419.6 751.2 L420.75 751.2 L420.75 752.35 L423.05 752.35 L423.05 752.7 L424.2 752.7 L424.97 752.7 L424.97 754.9 L426.5 754.9 L426.5 756.7 L428.03 756.7 L428.03 758.1 L428.8 758.1 L429.76 758.1 L429.76 758.82 L431.69 758.82 L431.69 759.15 L433.61 759.15 L433.61 759.48 L435.54 759.48 L435.54 759.4 L436.5 759.4 L445.8 758.8 L448.8 759.4 L449.8 766.2 L512.3 766.5' class='cv' stroke='#12bc1a'/>
<path d='M328.2 667.1V671.7 M332.8 674V678.6 M337.5 676.3V680.9 M342.1 683.2V687.8 M346.7 689V693.6 M349 694.7V699.3 M353.6 696.5V701.1 M358.2 699.7V704.3 M359.4 706.9V711.5 M362.8 716.2V720.8 M366.3 719.6V724.2 M372 721.9V726.5 M375 723.5V728.1 M379.6 725.8V730.4 M385.8 729.2V733.8 M396.5 728.1V732.7 M401.2 732.7V737.3 M405.8 737.3V741.9 M410.4 738.9V743.5 M413.5 743.5V748.1 M419.6 748.9V753.5 M424.2 750.4V755 M428.8 755.8V760.4 M436.5 757.1V761.7 M445.8 756.5V761.1 M448.8 757.1V761.7 M449.8 763.9V768.5' class='vt' stroke='#12bc1a'/>
<path d='M453 763.5V769.1 M461.3 763.5V769.1 M475.8 763.6V769.2 M511 763.7V769.3' class='cs' stroke='#12bc1a'/>
<path d='M320.8 649 L324.2 649 L324.2 668.2 L330 668.2 L330.5 687.8 L331.1 699.4 L332.8 700.5 L332.8 709.2 L334 719.6 L334.6 738 L335.2 749 L343.1 749 L343.1 759.4 L346 759.4 L346 769.2 L351.7 769.2 L351.7 779 L363.3 779 L363.3 789.4 L375.4 789.4 L375.4 799.2 L382.9 799.2' class='cv' stroke='#1006d6'/>
<path d='M382 796.4V802' class='cs' stroke='#1006d6'/>
<text x='87' y='12.7' class='ti'>All Treatment</text>
<text x='343' y='12.7' class='ti'>Intensive Treatment</text>
<text x='121' y='847.9' class='xl'>Time (days)</text>
<text x='401' y='847.9' class='xl'>Time (days)</text>
</svg></body></html>
